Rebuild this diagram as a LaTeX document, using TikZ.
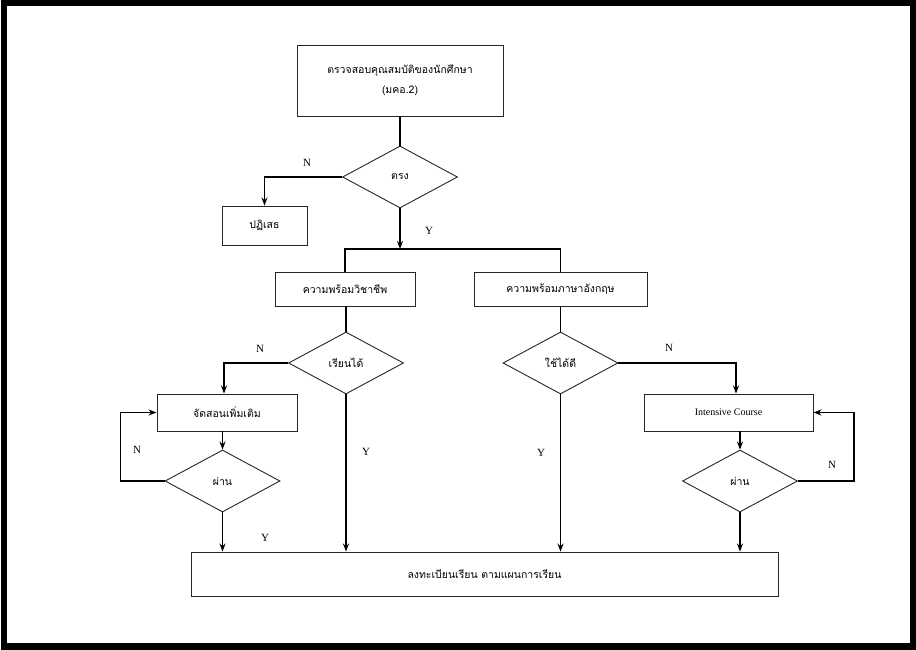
\documentclass[tikz,border=0pt]{standalone}
\usepackage{fontspec}
\setmainfont{Liberation Serif}
\newfontfamily\thaifont[Script=Thai]{Loma}
\usetikzlibrary{shapes.geometric,arrows.meta}
\begin{document}
\begin{tikzpicture}[x=1pt,y=-1pt,
  box/.style={draw=black!85,line width=0.9pt,rectangle,inner sep=0pt,font=\thaifont\fontsize{10.5}{12}\selectfont},
  dia/.style={draw=black!85,line width=0.9pt,diamond,inner sep=0pt,minimum width=115pt,minimum height=62pt,aspect=1.85,font=\thaifont\fontsize{10.5}{12}\selectfont},
  conn/.style={line width=1.6pt,black},
  arr/.style={conn,-{Stealth[length=8pt,width=6pt]}},
  lab/.style={font=\fontsize{11}{13}\selectfont,inner sep=0pt}]
\useasboundingbox (0,0) rectangle (916,650);
\draw[line width=6.5pt] (4,3.2) rectangle (912.8,646.5);
% nodes
\node[box,minimum width=206pt,minimum height=71pt,align=center] (top) at (400,80.5)
  {ตรวจสอบคุณสมบัติของนักศึกษา\\[8pt](มคอ.2)};
\node[dia] (d1) at (400,177) {ตรง};
\node[box,minimum width=85pt,minimum height=39pt] (rej) at (264.5,225.5) {ปฏิเสธ};
\coordinate (j) at (400,249);
\node[box,minimum width=140pt,minimum height=34pt] (pro) at (345,289) {ความพร้อมวิชาชีพ};
\node[box,minimum width=173pt,minimum height=34pt] (eng) at (560.5,289) {ความพร้อมภาษาอังกฤษ};
\node[dia] (d2) at (346,363) {เรียนได้};
\node[dia] (d3) at (560.5,363) {ใช้ได้ดี};
\node[box,minimum width=140pt,minimum height=37pt] (extra) at (227,412.5) {จัดสอนเพิ่มเติม};
\node[box,minimum width=169pt,minimum height=37pt,font=\fontsize{10}{12}\selectfont] (ic) at (728.5,412.5) {Intensive Course};
\node[dia] (d4) at (222.5,481) {ผ่าน};
\node[dia] (d5) at (740,481) {ผ่าน};
\node[box,minimum width=587pt,minimum height=44pt] (reg) at (484.5,574) {ลงทะเบียนเรียน ตามแผนการเรียน};
% connectors
\draw[conn] (top.south) -- (d1.north);
\draw[arr] (d1.west) -| (rej.north);
\draw[arr] (d1.south) -- (j);
\draw[conn] (pro.north) |- (j) -| (eng.north);
\draw[conn] (d2.north |- pro.south) -- (d2.north);
\draw[conn] (d3.north |- eng.south) -- (d3.north);
\draw[arr] (d2.west) -| ([xshift=-3pt]extra.north);
\draw[arr] (d3.east) -| ([xshift=7.5pt]ic.north);
\draw[arr] (d4.north |- extra.south) -- (d4.north);
\draw[arr] (d5.north |- ic.south) -- (d5.north);
\draw[arr] (d4.west) -- ++(-44,0) |- (extra.west);
\draw[arr] (d5.east) -- ++(56,0) |- (ic.east);
\draw[arr] (d4.south) -- (d4.south |- reg.north);
\draw[arr] (d2.south) -- (d2.south |- reg.north);
\draw[arr] (d3.south) -- (d3.south |- reg.north);
\draw[arr] (d5.south) -- (d5.south |- reg.north);
% labels
\node[lab] (l1) at (307,163) {N};
\node[lab] (l2) at (429,231) {Y};
\node[lab] (l3) at (260,349) {N};
\node[lab] (l4) at (366,452) {Y};
\node[lab] (l5) at (541,453) {Y};
\node[lab] (l6) at (669,348) {N};
\node[lab] (l7) at (137,450) {N};
\node[lab] (l8) at (265,538) {Y};
\node[lab] (l9) at (832,465) {N};
\end{tikzpicture}
\end{document}
